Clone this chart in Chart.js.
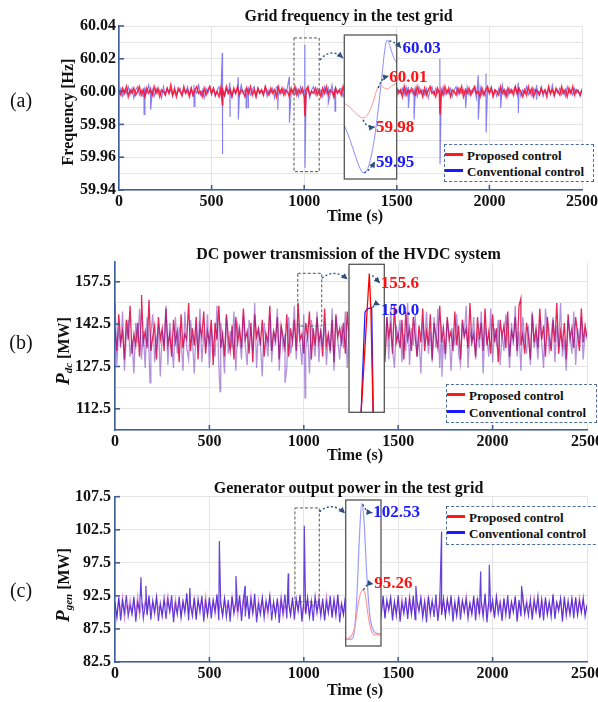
<!DOCTYPE html>
<html><head><meta charset="utf-8">
<script src="https://cdn.jsdelivr.net/npm/chart.js@4.4.0/dist/chart.umd.min.js"></script>
<style>
body{margin:0;background:#fff;}
#wrap{position:relative;width:598px;height:702px;overflow:hidden;background:#fff;font-family:"Liberation Serif","Times New Roman",serif;color:#111;}
canvas{position:absolute;left:0;}
.t{position:absolute;white-space:nowrap;transform:translate(-50%,-50%);font-weight:bold;font-size:16px;line-height:1;}
.rot{transform:translate(-50%,-50%) rotate(-90deg);}
.pl{position:absolute;transform:translate(-50%,-50%);font-size:20px;line-height:1;white-space:nowrap;}
.leg{position:absolute;border:1.5px dashed #4d6f9f;box-sizing:border-box;background:#fff;z-index:5;}
.sw{position:absolute;height:3px;width:18px;left:0px;}
.lt{position:absolute;left:22px;font-weight:bold;font-size:13px;white-space:nowrap;transform:translateY(-50%);line-height:1;}
sub{font-size:11px;vertical-align:-3px;}
</style></head>
<body>
<div id="wrap">
  <canvas id="cA" width="598" height="212" style="top:0px"></canvas>
  <canvas id="iA" width="598" height="212" style="top:0px"></canvas>
  <canvas id="cB" width="598" height="222" style="top:230px"></canvas>
  <canvas id="iB" width="598" height="222" style="top:230px"></canvas>
  <canvas id="cC" width="598" height="224" style="top:460px"></canvas>
  <canvas id="iC" width="598" height="224" style="top:460px"></canvas>

  <div class="t" style="left:348.5px;top:16px">Grid frequency in the test grid</div>
  <div class="t" style="left:348.5px;top:254px">DC power transmission of the HVDC system</div>
  <div class="t" style="left:348.5px;top:488px">Generator output power in the test grid</div>

  <div class="t rot" style="left:68px;top:112px">Frequency [Hz]</div>
  <div class="t rot" style="left:63px;top:351px"><i style="font-size:19px">P</i><sub><i>dc</i></sub> [MW]</div>
  <div class="t rot" style="left:63px;top:585px"><i style="font-size:19px">P</i><sub><i>gen</i></sub> [MW]</div>

  <div class="t" style="left:355px;top:216px">Time (s)</div>
  <div class="t" style="left:355px;top:455px">Time (s)</div>
  <div class="t" style="left:355px;top:690px">Time (s)</div>

  <div class="pl" style="left:21px;top:100px">(a)</div>
  <div class="pl" style="left:21px;top:342px">(b)</div>
  <div class="pl" style="left:21px;top:590px">(c)</div>

  <div class="leg" style="left:444px;top:144px;width:150px;height:38px">
    <div class="sw" style="top:8px;background:#ff1a1a"></div><div class="lt" style="top:9.5px">Proposed control</div>
    <div class="sw" style="top:24px;background:#1a1aff"></div><div class="lt" style="top:25.5px">Conventional control</div>
  </div>
  <div class="leg" style="left:446px;top:384px;width:151px;height:39px">
    <div class="sw" style="top:8px;background:#ff1a1a"></div><div class="lt" style="top:9.5px">Proposed control</div>
    <div class="sw" style="top:25px;background:#1a1aff"></div><div class="lt" style="top:26.5px">Conventional control</div>
  </div>
  <div class="leg" style="left:446px;top:506px;width:160px;height:39px">
    <div class="sw" style="top:8px;background:#ff1a1a"></div><div class="lt" style="top:9.5px">Proposed control</div>
    <div class="sw" style="top:24px;background:#1a1aff"></div><div class="lt" style="top:25.5px">Conventional control</div>
  </div>
</div>
<script>
// ---------------- DATA ----------------
const sampleStep = 10; // s, sampling of the plotted records (0..2500 s)
const timeGrid = Array.from({length: 251}, (_, i) => i * sampleStep);

// (a) grid frequency [Hz]
const freqProposed = [
60.001,59.998,60.002,59.999,60.003,59.997,60.001,59.999,60.002,59.998,
60.000,60.003,59.998,60.001,59.997,60.002,59.999,60.001,59.998,60.003,
59.999,60.002,59.997,60.001,60.000,59.998,60.002,59.999,60.004,59.998,
60.001,59.997,60.002,60.000,59.998,60.003,59.999,60.001,59.997,60.002,
59.998,60.001,60.003,59.999,60.000,59.997,60.002,59.998,60.001,60.003,
59.999,60.002,59.998,60.000,59.997,60.002,60.001,59.998,60.003,59.999,
60.001,59.997,60.002,59.999,60.003,59.998,60.001,60.000,59.997,60.002,
59.999,60.003,59.998,60.001,59.997,60.002,59.999,60.001,59.998,60.003,
60.000,59.998,60.002,59.999,60.001,59.997,60.003,59.999,60.002,59.998,
60.001,60.000,59.997,60.002,59.999,60.003,59.998,60.001,59.999,60.002,
59.997,60.001,60.003,59.998,60.000,59.999,60.002,59.998,60.001,59.997,
60.002,59.999,60.003,59.998,60.001,60.000,59.997,60.002,59.999,60.001,
59.998,60.003,59.999,60.001,59.997,60.002,60.000,59.998,60.003,59.999,
60.001,59.997,60.002,59.998,60.001,60.003,59.999,60.000,59.997,60.002,
59.999,60.001,59.998,60.003,59.999,60.002,59.997,60.001,60.000,59.998,
60.002,59.999,60.001,59.997,60.003,59.998,60.001,59.999,60.002,60.000,
59.998,60.003,59.999,60.001,59.997,60.002,59.998,60.001,60.003,59.999,
60.000,59.997,60.002,59.999,60.001,59.998,60.003,59.999,60.002,59.997,
60.001,60.000,59.998,60.002,59.999,60.003,59.997,60.001,59.999,60.002,
59.998,60.001,60.003,59.999,60.000,59.997,60.002,59.998,60.001,60.003,
59.999,60.002,59.997,60.001,60.000,59.998,60.003,59.999,60.001,59.997,
60.002,59.999,60.001,59.998,60.003,59.999,60.002,60.000,59.997,60.001,
59.998,60.003,59.999,60.002,59.997,60.001,60.000,59.998,60.002,59.999,
60.001,59.997,60.003,59.999,60.001,59.998,60.002,60.000,59.998,60.003,
59.999,60.001,59.997,60.002,59.999,60.003,59.998,60.001,60.000,59.998,
60.001];
const freqConventional = [
59.998,60.002,59.997,60.001,59.999,60.003,59.998,60.002,59.996,60.001,
60.003,59.998,60.001,59.997,60.002,59.999,60.004,59.998,60.001,59.997,
60.002,59.999,60.001,59.996,60.003,59.998,60.002,59.999,60.001,59.997,
60.003,59.998,60.000,60.002,59.997,60.001,59.999,60.003,59.998,60.002,
59.997,60.001,59.999,60.004,59.998,60.001,59.996,60.002,59.999,60.003,
59.998,60.002,59.997,60.001,60.003,59.998,60.000,59.997,60.002,59.999,
60.003,59.997,60.001,59.999,60.002,59.998,60.004,59.999,60.001,59.996,
60.002,59.998,60.001,60.003,59.997,60.002,59.999,60.001,59.998,60.003,
59.997,60.001,59.999,60.002,59.996,60.003,59.998,60.001,59.999,60.002,
59.998,60.003,59.997,60.001,60.000,59.998,60.002,59.997,60.003,59.999,
60.001,59.998,60.002,59.996,60.001,60.003,59.998,60.002,59.999,60.001,
59.997,60.003,59.999,60.001,59.998,60.004,59.997,60.002,59.999,60.001,
60.002,59.997,60.001,59.999,60.003,59.998,60.001,59.996,60.002,59.999,
60.003,59.998,60.001,59.997,60.002,60.000,59.998,60.003,59.997,60.001,
59.999,60.002,59.998,60.003,59.997,60.001,59.999,60.002,59.998,60.004,
59.997,60.001,59.999,60.002,59.998,60.003,59.997,60.001,60.000,59.998,
60.002,59.997,60.003,59.999,60.001,59.998,60.002,59.996,60.001,60.003,
59.998,60.002,59.999,60.001,59.997,60.003,59.998,60.001,59.999,60.002,
59.997,60.001,60.003,59.998,60.002,59.999,60.001,59.997,60.003,59.998,
60.001,59.999,60.002,59.996,60.001,60.003,59.998,60.000,59.997,60.002,
59.999,60.003,59.998,60.001,59.997,60.002,59.999,60.004,59.998,60.001,
59.997,60.002,59.999,60.001,60.003,59.998,60.002,59.997,60.001,59.999,
60.003,59.998,60.001,59.997,60.002,59.999,60.001,59.998,60.003,59.997,
60.001,59.999,60.002,59.998,60.004,59.997,60.001,59.999,60.002,59.998,
60.001,59.997,60.003,59.999,60.001,59.998,60.002,59.999,60.001,59.997,
60.002];
const freqConvSpikeTimes = [135,171,405,558,599,644,686,697,857,920,1004,1130,1166,1562,1593,1733,1872,1940,1982,2061,2156,2255];
const freqConvSpikeHigh  = [60.002,60.003,60.004,60.0235,60.0055,60.0087,60.002,60.002,60.003,60.009,60.0285,60.002,60.002,60.003,60.002,60.020,60.002,60.0098,60.011,60.002,60.0055,60.004];
const freqConvSpikeLow   = [59.986,59.989,59.991,59.962,59.985,59.983,59.990,59.990,59.989,59.981,59.9536,59.993,59.988,59.990,59.983,59.9557,59.990,59.983,59.975,59.990,59.987,59.995];
const freqPropSpikeTimes = [558,1004,1733];
const freqPropSpikeLow   = [59.992,59.985,59.986];

// (b) DC power [MW]
const pdcProposed = [
141,133,146,136,140,130,144,137,149,132,
139,135,143,131,147,136,140,134,151,133,
138,142,130,145,137,141,133,148,135,139,
131,144,136,140,129,146,134,139,137,150,
133,141,135,145,130,142,138,147,132,140,
136,144,128,143,137,149,134,139,131,146,
138,133,142,130,145,136,141,134,148,137,
140,132,143,129,146,138,141,135,144,131,
139,136,149,133,140,137,145,130,142,138,
134,146,131,141,136,144,133,150,137,139,
132,143,138,147,130,141,135,145,136,140,
131,148,135,139,133,144,129,146,138,141,
136,143,132,147,137,140,134,145,130,142,
139,133,148,136,141,131,144,137,146,134,
140,135,143,129,145,138,142,132,149,136,
139,134,144,130,147,137,141,133,145,138,
131,142,136,148,133,140,135,146,130,143,
138,134,149,136,141,132,145,137,140,133,
147,135,142,130,144,138,141,134,150,136,
139,131,145,137,143,133,148,135,140,132,
146,136,141,129,144,138,142,134,147,131,
140,137,145,133,149,135,139,132,143,138,
130,146,136,141,134,148,137,142,131,145,
138,133,144,136,150,132,140,135,143,130,
146,137,141,134,145,139,133,148,136,142,
138];
const pdcConventional = [
150,128,141,134,147,126,139,144,131,137,
125,143,136,148,130,140,127,145,133,139,
146,129,137,142,124,140,135,149,128,143,
136,127,145,132,141,138,126,147,134,130,
144,137,125,142,133,148,129,139,135,146,
127,141,136,131,149,128,143,137,125,145,
132,140,134,147,126,142,138,130,146,135,
128,144,139,133,150,127,141,136,124,143,
137,131,146,129,140,135,148,126,142,134,
139,127,145,132,137,149,130,143,136,128,
146,133,140,125,144,138,131,147,129,141,
135,143,128,139,132,148,126,145,137,130,
142,134,147,127,140,136,131,149,125,144,
138,129,143,135,146,128,141,133,139,147,
126,140,136,131,145,130,148,134,127,142,
137,144,129,139,133,150,128,141,135,146,
131,138,125,143,136,147,132,140,129,145,
134,148,127,142,137,130,144,139,126,141,
135,146,132,128,143,138,149,127,140,136,
145,130,139,134,147,125,142,137,131,148,
129,141,136,144,128,139,133,146,138,127,
143,135,149,131,140,126,145,137,132,142,
128,147,134,139,130,144,136,127,148,141,
133,138,145,129,142,135,150,131,137,126,
144,139,132,147,128,141,136,145,130,140,
137];
const pdcConvSpikeTimes = [185,556,900,1006,1731];
const pdcConvSpikeLow   = [121.7,118.6,121.7,116.4,123.9];
const pdcPropSpikeTimes = [141,1290,2150];
const pdcPropSpikeHigh  = [152.8,152.0,151.5];

// (c) generator output power [MW]
const pgenProposed = [
90.8,89.5,91.9,90.2,92.4,89.0,91.1,90.5,92.0,89.7,
91.6,90.0,92.5,89.4,91.3,90.7,91.8,89.8,92.2,90.3,
91.4,89.6,92.3,90.5,91.0,89.3,91.7,90.9,92.6,90.0,
91.2,89.7,92.1,90.4,91.5,89.5,91.9,90.6,92.4,89.9,
91.0,90.2,92.2,89.4,91.6,90.7,91.8,90.1,92.5,89.6,
91.3,90.4,91.9,89.7,92.3,90.2,91.5,89.5,92.0,90.8,
91.1,89.8,92.4,90.3,91.7,89.4,91.9,90.1,92.2,90.6,
91.4,89.6,92.6,90.0,91.5,89.7,92.0,90.5,92.1,90.0,
91.2,89.5,92.3,90.7,91.3,89.8,91.8,90.2,92.5,89.4,
91.0,90.6,92.2,89.7,91.7,90.1,91.9,90.4,92.4,89.6,
91.1,89.9,92.0,89.5,91.6,90.8,91.8,89.8,92.3,90.2,
91.3,89.4,92.5,90.5,91.5,89.7,92.0,90.0,92.2,90.6,
91.2,89.6,92.1,90.3,91.4,90.0,92.3,89.5,91.9,90.7,
91.0,89.8,92.4,90.1,91.7,89.4,91.8,90.6,92.2,89.9,
91.5,90.3,92.0,89.6,91.3,90.8,92.4,89.7,91.6,90.2,
91.8,89.5,92.2,90.4,91.1,89.9,92.5,90.1,91.7,89.6,
91.4,90.5,92.1,89.8,91.9,90.2,92.3,89.4,91.5,90.7,
91.2,89.7,92.4,90.0,91.6,89.5,92.0,90.6,91.8,90.1,
91.3,89.6,92.2,90.4,91.7,89.9,92.5,90.2,91.4,89.7,
91.9,90.5,92.1,89.5,91.5,90.3,92.3,89.8,91.6,90.0,
91.1,89.4,92.4,90.6,91.8,89.7,92.0,90.2,91.5,89.9,
91.7,90.4,92.2,89.6,91.3,90.0,92.5,89.5,91.9,90.7,
91.2,89.8,92.3,90.1,91.6,89.4,92.1,90.5,91.8,89.7,
91.4,90.2,92.4,89.9,91.5,90.6,92.0,89.5,91.7,90.3,
91.0,89.6,92.2,90.4,91.9,89.8,92.3,90.1,91.6,90.0,
90.9];
const pgenConventional = [
91.5,89.2,92.3,88.8,91.7,90.0,92.6,89.4,91.1,89.8,
92.4,88.6,91.5,90.3,92.8,89.1,91.2,89.6,92.5,88.9,
91.8,90.1,92.3,88.7,91.4,89.5,92.1,89.0,91.9,90.2,
92.6,88.5,91.3,89.7,92.4,89.2,91.6,89.9,92.9,88.8,
91.1,89.4,92.2,88.9,92.0,90.0,92.5,88.6,91.6,89.6,
92.3,89.1,91.8,90.2,92.7,88.8,91.4,89.5,92.1,89.3,
91.9,88.6,92.4,89.8,91.5,90.1,92.6,88.7,91.7,89.4,
92.5,89.0,92.0,89.9,92.8,88.5,91.2,89.7,92.2,89.2,
91.8,90.3,92.5,88.8,91.6,89.5,92.1,88.4,91.9,90.0,
92.7,89.1,91.4,89.6,92.3,88.9,92.0,90.2,92.6,88.6,
91.5,89.8,92.2,89.3,91.7,88.7,92.4,90.1,91.8,89.4,
92.1,88.8,91.6,89.9,92.5,89.2,91.9,89.5,92.7,88.5,
91.3,89.7,92.3,89.0,92.0,89.9,92.6,88.9,91.5,90.2,
92.4,89.3,91.7,88.6,92.2,90.0,91.8,89.4,92.8,88.7,
91.2,89.6,92.5,89.1,91.9,90.3,92.1,88.8,91.6,89.5,
92.6,88.6,91.4,89.8,92.3,89.0,92.0,89.7,92.5,88.9,
91.7,90.1,92.2,89.2,91.5,88.5,92.4,89.9,91.8,89.3,
92.7,88.7,91.3,89.6,92.1,89.4,91.9,90.0,92.6,88.6,
91.6,89.5,92.4,88.9,91.8,90.2,92.0,89.1,91.4,89.8,
92.5,88.8,92.2,89.7,91.6,89.3,92.8,88.5,91.7,90.1,
91.9,89.2,92.3,89.8,91.4,88.7,92.1,89.6,92.6,89.0,
91.5,90.0,92.4,88.6,91.9,89.4,92.2,89.9,91.3,89.5,
92.0,88.9,91.7,90.1,92.5,89.2,91.8,88.8,92.3,89.7,
91.6,89.3,92.7,89.0,91.5,90.2,92.1,88.6,92.4,89.5,
91.8,89.8,92.0,89.1,92.3,89.6,91.7,90.0,92.2,89.4,
91.2];
const pgenConvSpikeTimes = [138,164,397,553,641,689,918,1003,1594,1730,1937,1983,2154];
const pgenConvSpikePeak  = [95.3,94.0,93.7,100.8,95.5,94.0,95.9,103.1,94.0,102.2,96.2,97.2,94.0];

// zoomed event (insets), relative time 0..100 % of zoom window
const zoomFreqConvT = [0,10.8,20.4,30,36.3,45.9,55.4,65,71.3,77.7,82.1,87.2,93.6,100];
const zoomFreqConv  = [59.9788,59.970,59.961,59.9528,59.9501,59.9537,59.9668,59.9889,60.0069,60.025,60.030,60.026,60.020,60.016];
const zoomFreqPropT = [0,10,20,30,36,44,55,62,68,75,82,90,100];
const zoomFreqProp  = [59.9919,59.9898,59.9865,59.9838,59.9832,59.9848,59.9927,59.9999,60.003,60.0014,60.0005,60.0023,60.0041];
const zoomPdcConvT = [0,34,45.3,51.8,64.3,68.8,100];
const zoomPdcConv  = [120,134,149.7,150.2,150.4,133,120];
const zoomPdcPropT = [0,34,50,57.5,62,68.8,100];
const zoomPdcProp  = [120,134,148.7,155.6,150,133,120];
const zoomPgenConvT = [0,17,23.5,31.2,38.5,45.3,51.8,59.5,68.8,78.2,87.8,100];
const zoomPgenConv  = [91.13,91.13,91.63,94.42,99.45,102.53,101.13,96.66,93.02,91.91,91.63,91.57];
const zoomPgenPropT = [0,14.2,26.3,35.7,47.0,54.7,64.0,73.7,87.8,100];
const zoomPgenProp  = [91.13,91.35,92.18,94.15,95.26,94.98,93.02,91.76,91.49,91.49];

const peakLabelsA = ['60.03','60.01','59.98','59.95'];
const peakLabelsB = ['155.6','150.0'];
const peakLabelsC = ['102.53','95.26'];

const yGridA = [59.94,59.95,59.96,59.97,59.98,59.99,60.00,60.01,60.02,60.03,60.04];
const yGridB = [105,112.5,120,127.5,135,142.5,150,157.5];
const yGridC = [82.5,87.5,92.5,97.5,102.5,107.5];

// ---------------- HELPERS ----------------
const axisColor = '#3f5f9c';
const arrowColor = '#2c4f80';
const RED = '#ff1010', BLUE = '#1a1aff';
Chart.defaults.font.family = '"Liberation Serif","Times New Roman",serif';
Chart.defaults.font.weight = 'bold';
Chart.defaults.font.size = 16;
Chart.defaults.color = '#111';

function series(times, base, sT, sHi, sLo) {
  const pts = times.map((t, i) => ({x: t, y: base[i]}));
  (sT || []).forEach((t, k) => {
    if (sHi) pts.push({x: t - 0.4, y: sHi[k]});
    if (sLo) pts.push({x: t + 0.4, y: sLo[k]});
  });
  pts.sort((a, b) => a.x - b.x);
  return pts;
}
function pairs(t, v) { return t.map((x, i) => ({x, y: v[i]})); }

function dottedArrow(ctx, x0, y0, cx, cy, x1, y1) {
  ctx.save();
  ctx.strokeStyle = arrowColor; ctx.fillStyle = arrowColor;
  ctx.lineWidth = 1.4; ctx.setLineDash([2, 2.2]);
  ctx.beginPath(); ctx.moveTo(x0, y0); ctx.quadraticCurveTo(cx, cy, x1, y1); ctx.stroke();
  ctx.setLineDash([]);
  const a = Math.atan2(y1 - cy, x1 - cx), L = 6, W = 3;
  ctx.beginPath(); ctx.moveTo(x1, y1);
  ctx.lineTo(x1 - L*Math.cos(a) + W*Math.sin(a), y1 - L*Math.sin(a) - W*Math.cos(a));
  ctx.lineTo(x1 - L*Math.cos(a) - W*Math.sin(a), y1 - L*Math.sin(a) + W*Math.cos(a));
  ctx.closePath(); ctx.fill();
  ctx.restore();
}

const inwardTicks = {
  id: 'inwardTicks',
  afterDraw(chart) {
    const {ctx, chartArea: a, scales: {x, y}} = chart;
    ctx.save(); ctx.strokeStyle = axisColor; ctx.lineWidth = 1.6;
    y.ticks.forEach(t => {
      if (t.label !== '' && t.label != null) {
        const py = y.getPixelForValue(t.value);
        ctx.beginPath(); ctx.moveTo(a.left, py); ctx.lineTo(a.left + 5, py); ctx.stroke();
      }
    });
    x.ticks.forEach(t => {
      if (t.value > 0 && t.value < 2500) {
        const px = x.getPixelForValue(t.value);
        ctx.beginPath(); ctx.moveTo(px, a.bottom); ctx.lineTo(px, a.bottom - 5); ctx.stroke();
      }
    });
    ctx.restore();
  }
};

function sourceBox(box, arc, top) {
  return {
    id: 'sourceBox',
    afterDatasetsDraw(chart) {
      const {ctx, scales: {x, y}} = chart;
      const x0 = x.getPixelForValue(box.t0), x1 = x.getPixelForValue(box.t1);
      const y0 = y.getPixelForValue(box.v1), y1 = y.getPixelForValue(box.v0);
      ctx.save(); ctx.strokeStyle = '#555'; ctx.lineWidth = 1; ctx.setLineDash([3, 2]);
      ctx.strokeRect(x0, y0, x1 - x0, y1 - y0); ctx.restore();
      dottedArrow(ctx, arc[0], arc[1] - top, arc[2], arc[3] - top, arc[4], arc[5] - top);
    }
  };
}

function mainChart(id, c) {
  return new Chart(document.getElementById(id), {
    type: 'line',
    data: {datasets: c.datasets},
    options: {
      responsive: false, animation: false, events: [],
      layout: {padding: {left: 0, top: c.padTop, right: c.padRight, bottom: 0}},
      plugins: {legend: {display: false}, tooltip: {enabled: false}},
      elements: {point: {radius: 0}, line: {tension: 0}},
      scales: {
        x: {
          type: 'linear', min: 0, max: 2500,
          ticks: {stepSize: 500, padding: 2, maxRotation: 0, autoSkip: false, callback: v => String(v)},
          grid: {color: '#e4e4e4', drawTicks: false},
          border: {color: axisColor, width: 1.6},
          afterFit: s => { s.height = c.xAxisH; s.paddingLeft = 0; s.paddingRight = 0; }
        },
        y: {
          min: c.yMin, max: c.yMax,
          afterBuildTicks: s => { s.ticks = c.yGrid.map(v => ({value: v})); },
          ticks: {padding: c.yPad, autoSkip: false, callback: c.yLabel},
          grid: {color: '#e4e4e4', drawTicks: false},
          border: {color: axisColor, width: 1.6},
          afterFit: s => { s.width = c.yAxisW; s.paddingTop = 0; s.paddingBottom = 0; }
        }
      }
    },
    plugins: [inwardTicks, sourceBox(c.box, c.arc, c.top)]
  });
}

function insetChart(id, c) {
  return new Chart(document.getElementById(id), {
    type: 'line',
    data: {datasets: c.datasets},
    options: {
      responsive: false, animation: false, events: [],
      layout: {padding: c.pad},
      plugins: {legend: {display: false}, tooltip: {enabled: false}},
      elements: {point: {radius: 0}},
      scales: {x: {type: 'linear', display: false, min: 0, max: 100},
               y: {display: false, min: c.yMin, max: c.yMax}}
    },
    plugins: [{
      id: 'insetDecor',
      beforeDatasetsDraw(chart) {
        const {ctx, chartArea: a} = chart;
        ctx.save(); ctx.fillStyle = '#fff'; ctx.fillRect(a.left, a.top, a.right - a.left, a.bottom - a.top); ctx.restore();
      },
      afterDatasetsDraw(chart) {
        const {ctx, chartArea: a} = chart;
        ctx.save(); ctx.strokeStyle = '#555'; ctx.lineWidth = 1.3;
        ctx.strokeRect(a.left, a.top, a.right - a.left, a.bottom - a.top); ctx.restore();
      },
      afterDraw(chart) {
        const {ctx, scales: {x, y}} = chart;
        c.notes.forEach(n => {
          const sx = x.getPixelForValue(n.at[0]) + n.off[0];
          const sy = y.getPixelForValue(n.at[1]) + n.off[1];
          dottedArrow(ctx, sx, sy, n.ctrl[0], n.ctrl[1] - c.top, n.end[0], n.end[1] - c.top);
          ctx.save();
          ctx.font = 'bold 17px "Liberation Serif","Times New Roman",serif';
          ctx.fillStyle = n.color; ctx.textAlign = 'left'; ctx.textBaseline = 'middle';
          ctx.fillText(n.text, n.label[0], n.label[1] - c.top);
          ctx.restore();
        });
      }
    }]
  });
}

// ---------------- PANEL (a) ----------------
mainChart('cA', {
  top: 0, padTop: 26, padRight: 16, xAxisH: 22, yAxisW: 119, yPad: 3,
  yMin: 59.94, yMax: 60.04, yGrid: yGridA,
  yLabel: (v, i) => (i % 2 === 0 ? Number(v).toFixed(2) : ''),
  box: {t0: 945, t1: 1081, v0: 59.9512, v1: 60.0327},
  arc: [320, 60, 331, 47, 343, 58],
  datasets: [
    {data: series(timeGrid, freqProposed, freqPropSpikeTimes, null, freqPropSpikeLow), borderColor: 'rgba(255,10,40,0.85)', borderWidth: 1.6},
    {data: series(timeGrid, freqConventional, freqConvSpikeTimes, freqConvSpikeHigh, freqConvSpikeLow), borderColor: 'rgba(80,70,240,0.7)', borderWidth: 1.1}
  ]
});
insetChart('iA', {
  top: 0, pad: {left: 344.3, right: 201.3, top: 35, bottom: 33}, yMin: 59.9464, yMax: 60.033,
  datasets: [
    {data: pairs(zoomFreqPropT, zoomFreqProp), borderColor: 'rgba(255,130,130,0.85)', borderWidth: 1, cubicInterpolationMode: 'monotone'},
    {data: pairs(zoomFreqConvT, zoomFreqConv), borderColor: 'rgba(120,120,255,0.85)', borderWidth: 1, cubicInterpolationMode: 'monotone'}
  ],
  notes: [
    {at: [82.1, 60.030], off: [2, 1], ctrl: [396, 42], end: [401, 48], label: [402.5, 48.3], text: peakLabelsA[0], color: BLUE},
    {at: [65, 59.9999], off: [0, -2], ctrl: [381, 78], end: [389, 76], label: [389.3, 77.3], text: peakLabelsA[1], color: RED},
    {at: [36, 59.9832], off: [0, 2], ctrl: [366, 128], end: [375, 127], label: [376, 127.7], text: peakLabelsA[2], color: RED},
    {at: [36.3, 59.9501], off: [1, 0], ctrl: [370, 170], end: [375, 161.5], label: [376, 162.7], text: peakLabelsA[3], color: BLUE}
  ]
});

// ---------------- PANEL (b) ----------------
mainChart('cB', {
  top: 230, padTop: 32.3, padRight: 11, xAxisH: 22, yAxisW: 115, yPad: 4,
  yMin: 105, yMax: 164.4, yGrid: yGridB,
  yLabel: (v, i) => (i % 2 === 1 ? Number(v).toFixed(1) : ''),
  box: {t0: 968, t1: 1095, v0: 141.8, v1: 160.5},
  arc: [322, 278.3, 334, 268, 347.5, 279.3],
  datasets: [
    {data: series(timeGrid, pdcConventional, pdcConvSpikeTimes, null, pdcConvSpikeLow), borderColor: 'rgba(105,40,185,0.5)', borderWidth: 1.3},
    {data: series(timeGrid, pdcProposed, pdcPropSpikeTimes, pdcPropSpikeHigh, null), borderColor: 'rgba(225,0,60,0.85)', borderWidth: 1.3}
  ]
});
insetChart('iB', {
  top: 230, pad: {left: 349, right: 213.7, top: 34.3, bottom: 39.7}, yMin: 134.4, yMax: 157.0,
  datasets: [
    {data: pairs(zoomPdcPropT, zoomPdcProp), borderColor: '#ff0000', borderWidth: 1.3},
    {data: pairs(zoomPdcConvT, zoomPdcConv), borderColor: '#2020ff', borderWidth: 1.3}
  ],
  notes: [
    {at: [57.5, 155.6], off: [3, 2], ctrl: [375, 278], end: [380, 283], label: [380.7, 283.3], text: peakLabelsB[0], color: RED},
    {at: [64.3, 150.4], off: [1, 0], ctrl: [375, 303], end: [380, 305], label: [381, 311], text: peakLabelsB[1], color: BLUE}
  ]
});

// ---------------- PANEL (c) ----------------
mainChart('cC', {
  top: 460, padTop: 36.7, padRight: 11, xAxisH: 22, yAxisW: 115, yPad: 4,
  yMin: 82.5, yMax: 107.5, yGrid: yGridC,
  yLabel: v => Number(v).toFixed(1),
  box: {t0: 953, t1: 1082, v0: 91.6, v1: 105.8},
  arc: [319.5, 511.7, 332, 501, 345, 513.3],
  datasets: [
    {data: series(timeGrid, pgenConventional, pgenConvSpikeTimes, pgenConvSpikePeak, null), borderColor: 'rgba(60,20,210,0.8)', borderWidth: 1.2},
    {data: series(timeGrid, pgenProposed), borderColor: 'rgba(215,110,210,0.75)', borderWidth: 1.2}
  ]
});
insetChart('iC', {
  top: 460, pad: {left: 345.7, right: 217, top: 40, bottom: 38}, yMin: 90.56, yMax: 102.81,
  datasets: [
    {data: pairs(zoomPgenPropT, zoomPgenProp), borderColor: '#ff9a9a', borderWidth: 1.2, cubicInterpolationMode: 'monotone'},
    {data: pairs(zoomPgenConvT, zoomPgenConv), borderColor: '#9a9aff', borderWidth: 1.2, cubicInterpolationMode: 'monotone'}
  ],
  notes: [
    {at: [45.3, 102.53], off: [1, 1], ctrl: [366, 512], end: [372.5, 512.7], label: [373.3, 512.7], text: peakLabelsC[0], color: BLUE},
    {at: [47.0, 95.26], off: [1, 0], ctrl: [367, 583], end: [373.5, 584], label: [374.3, 584], text: peakLabelsC[1], color: RED}
  ]
});
</script>
</body></html>
